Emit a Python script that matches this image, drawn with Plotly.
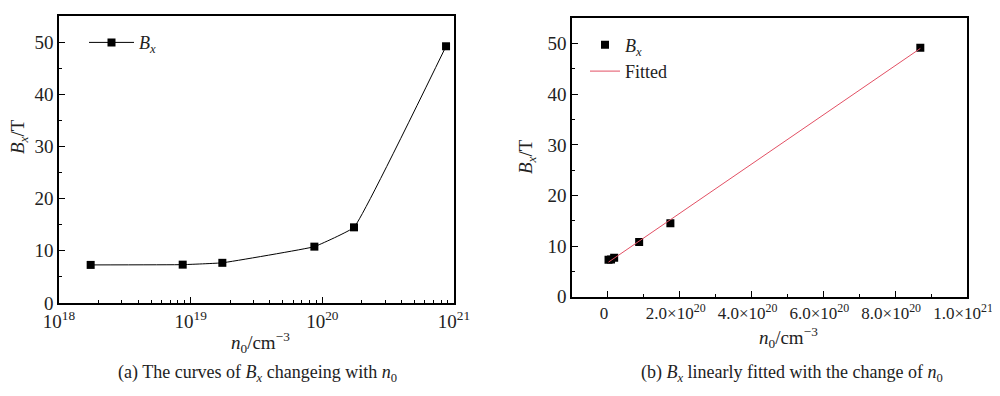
import numpy as np
import plotly.graph_objects as go

# ---- data ----
n0 = [1.74e18, 8.7e18, 1.74e19, 8.7e19, 1.74e20, 8.7e20]
Bx = [7.3, 7.35, 7.7, 10.8, 14.5, 49.2]

log_tick_vals = [1e18, 1e19, 1e20, 1e21]
log_tick_text = ["10<sup>18</sup>", "10<sup>19</sup>", "10<sup>20</sup>", "10<sup>21</sup>"]
lin_tick_vals = [0, 2e20, 4e20, 6e20, 8e20, 1e21]
lin_tick_text = ["0", "2.0×10<sup>20</sup>", "4.0×10<sup>20</sup>", "6.0×10<sup>20</sup>",
                 "8.0×10<sup>20</sup>", "1.0×10<sup>21</sup>"]
y_tick_vals = [0, 10, 20, 30, 40, 50]

# linear fit
slope, intercept = np.polyfit(n0, Bx, 1)
fit_x = [n0[0], n0[-1]]
fit_y = [float(slope * v + intercept) for v in fit_x]

FONT = "Liberation Serif"
W, H = 1000, 396
OFF = 8  # page body margin offset


def px(r):
    return (r - OFF) / W


def py(r):
    return 1 - (r - OFF) / H


fig = go.Figure()

fig.add_trace(go.Scatter(
    x=n0, y=Bx, mode="lines+markers", name="<i>B<sub>x</sub></i>",
    line=dict(color="black", width=1, shape="spline", smoothing=0.25),
    marker=dict(symbol="square", size=8, color="black"),
    xaxis="x", yaxis="y", legend="legend"))

fig.add_trace(go.Scatter(
    x=n0, y=Bx, mode="markers", name="<i>B<sub>x</sub></i>",
    marker=dict(symbol="square", size=8, color="black"),
    xaxis="x2", yaxis="y2", legend="legend2"))

fig.add_trace(go.Scatter(
    x=fit_x, y=fit_y, mode="lines", name="Fitted",
    line=dict(color="rgb(226,80,100)", width=1),
    xaxis="x2", yaxis="y2", legend="legend2"))

axis_common = dict(showline=True, linecolor="black", linewidth=1.5, mirror=True,
                   ticks="inside", ticklen=6, tickwidth=1.2, tickcolor="black",
                   showgrid=False, zeroline=False, automargin=False,
                   ticklabeloverflow="allow")
tf19 = dict(family=FONT, size=19, color="#222")
tf18 = dict(family=FONT, size=18, color="#222")
tf17 = dict(family=FONT, size=17, color="#222")

minor_log = [float(m) * 10.0 ** e for e in (18, 19, 20) for m in range(2, 10)]

fig.update_layout(
    width=W, height=H,
    margin=dict(l=0, r=0, t=0, b=0),
    paper_bgcolor="white", plot_bgcolor="white",
    font=dict(family=FONT, size=18, color="#222"),
    xaxis=dict(type="log", range=[18, 21], domain=[px(59), px(454)], anchor="y",
               tickvals=log_tick_vals, ticktext=log_tick_text, tickfont=tf19,
               minor=dict(ticks="inside", ticklen=3, tickcolor="black", tickvals=minor_log),
               **axis_common),
    yaxis=dict(range=[0, 55], domain=[py(303), py(16)], anchor="x",
               tickvals=y_tick_vals, tickfont=tf19,
               minor=dict(ticks="inside", ticklen=3, tickcolor="black", dtick=5),
               **axis_common),
    xaxis2=dict(range=[-1e20, 1e21], domain=[px(572), px(967)], anchor="y2",
                tickvals=lin_tick_vals, ticktext=lin_tick_text, tickfont=tf17,
                ticklabelshift=-4,
                minor=dict(ticks="inside", ticklen=3, tickcolor="black", dtick=1e20),
                **axis_common),
    yaxis2=dict(range=[0, 55], domain=[py(296.7), py(18.3)], anchor="x2",
                tickvals=y_tick_vals, tickfont=tf19,
                minor=dict(ticks="inside", ticklen=3, tickcolor="black", dtick=5),
                **axis_common),
    legend=dict(x=px(84), y=py(42.7), xanchor="left", yanchor="middle",
                itemwidth=45,
                bgcolor="rgba(0,0,0,0)", font=tf18),
    legend2=dict(x=px(585), y=py(58), xanchor="left", yanchor="middle",
                 bgcolor="rgba(0,0,0,0)", tracegroupgap=0, font=tf18),
    showlegend=True,
)

ann_font = dict(family=FONT, size=19, color="#222")
cap_font = dict(family=FONT, size=18, color="#222")
annotations = [
    dict(text="<i>B<sub>x</sub></i>/T", x=px(19), y=py(137), textangle=-90, font=ann_font),
    dict(text="<i>B<sub>x</sub></i>/T", x=px(527), y=py(157), textangle=-90, font=ann_font),
    dict(text="<i>n</i><sub>0</sub>/cm<sup>−3</sup>", x=px(260), y=py(342), font=ann_font),
    dict(text="<i>n</i><sub>0</sub>/cm<sup>−3</sup>", x=px(788), y=py(337), font=ann_font),
    dict(text="(a) The curves of <i>B<sub>x</sub></i> changeing with <i>n</i><sub>0</sub>",
         x=px(257), y=py(373), font=cap_font),
    dict(text="(b) <i>B<sub>x</sub></i> linearly fitted with the change of <i>n</i><sub>0</sub>",
         x=px(792), y=py(373), font=cap_font),
]
for a in annotations:
    fig.add_annotation(xref="paper", yref="paper", showarrow=False,
                       xanchor="center", yanchor="middle", **a)

fig.write_html("out.html")
